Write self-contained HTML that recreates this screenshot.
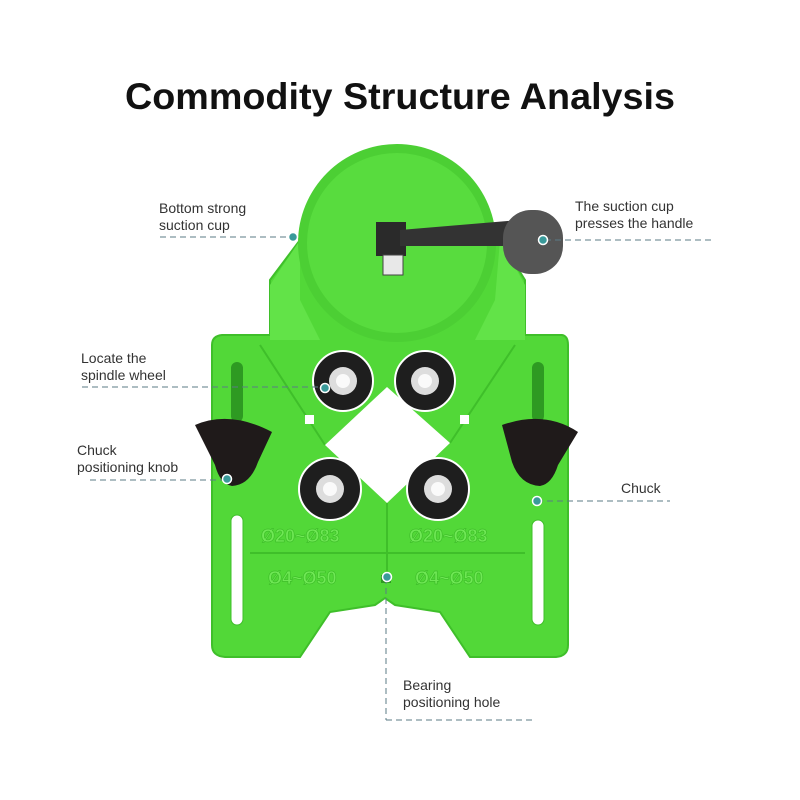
<!DOCTYPE html>
<html><head><meta charset="utf-8"><style>
body{margin:0;background:#fff;}
svg{display:block}
text{font-family:"Liberation Sans",sans-serif}
</style></head><body>
<svg width="800" height="800" viewBox="0 0 800 800">
<rect width="800" height="800" fill="#fff"/>
<text x="400" y="109" text-anchor="middle" font-size="37" font-weight="bold" fill="#111" textLength="550" lengthAdjust="spacingAndGlyphs">Commodity Structure Analysis</text>

<!-- body -->
<path d="M270 280 L300 240 L500 240 L525 280 L525 335 L562 335 Q568 336 568 345 L568 645 Q568 656 556 657 L470 657 L440 612 L395 605 L385 598 L375 605 L330 612 L300 657 L225 657 Q212 656 212 645 L212 345 Q212 336 222 335 L270 335 Z" fill="#52d838" stroke="#3fbf2a" stroke-width="2"/>
<path d="M300 240 L270 285 L270 340 L320 340 L300 300 Z" fill="#62e348"/>
<path d="M500 240 L525 285 L525 340 L475 340 L495 300 Z" fill="#62e348"/>
<line x1="250" y1="553" x2="525" y2="553" stroke="#3fbf2a" stroke-width="2"/>
<line x1="387" y1="503" x2="387" y2="580" stroke="#3fbf2a" stroke-width="2"/>
<line x1="260" y1="345" x2="325" y2="445" stroke="#3fbf2a" stroke-width="2"/>
<line x1="515" y1="345" x2="450" y2="443" stroke="#3fbf2a" stroke-width="2"/>
<!-- slots -->
<rect x="231" y="362" width="12" height="60" rx="6" fill="#2e9a22"/>
<rect x="231" y="515" width="12" height="110" rx="6" fill="#fff" stroke="#3fbf2a"/>
<rect x="532" y="362" width="12" height="60" rx="6" fill="#2e9a22"/>
<rect x="532" y="520" width="12" height="105" rx="6" fill="#fff" stroke="#3fbf2a"/>
<!-- diamond -->
<path d="M387 387 L450 443 L387 503 L325 445 Z" fill="#fff"/>
<rect x="305" y="415" width="9" height="9" fill="#fff"/>
<rect x="460" y="415" width="9" height="9" fill="#fff"/>
<rect x="381" y="575" width="10" height="8" fill="#2e9a22"/>
<!-- labels on tool -->
<g font-size="18" fill="#6fe855" stroke="#3fbf2a" stroke-width="0.7" font-weight="bold">
<text x="261" y="542">Ø20~Ø83</text><text x="409" y="542">Ø20~Ø83</text>
<text x="268" y="584">Ø4~Ø50</text>
<text x="415" y="584">Ø4~Ø50</text>
</g>
<!-- suction cup -->
<circle cx="397" cy="243" r="99" fill="#4ccf34"/>
<circle cx="397" cy="243" r="90" fill="#58dc3e"/>
<!-- handle -->
<rect x="376" y="222" width="30" height="34" fill="#2a2a2a"/>
<rect x="383" y="255" width="20" height="20" fill="#e8e8e8" stroke="#444"/>
<path d="M400 230 L520 220 L520 246 L400 246 Z" fill="#333"/>
<rect x="503" y="210" width="60" height="64" rx="28" fill="#555"/>
<!-- wheels -->
<g>
<circle cx="343" cy="381" r="30" fill="#1e1e1e" stroke="#fff" stroke-width="2"/><circle cx="343" cy="381" r="14" fill="#ddd"/><circle cx="343" cy="381" r="7" fill="#fafafa"/>
<circle cx="425" cy="381" r="30" fill="#1e1e1e" stroke="#fff" stroke-width="2"/><circle cx="425" cy="381" r="14" fill="#ddd"/><circle cx="425" cy="381" r="7" fill="#fafafa"/>
<circle cx="330" cy="489" r="31" fill="#1e1e1e" stroke="#fff" stroke-width="2"/><circle cx="330" cy="489" r="14" fill="#ddd"/><circle cx="330" cy="489" r="7" fill="#fafafa"/>
<circle cx="438" cy="489" r="31" fill="#1e1e1e" stroke="#fff" stroke-width="2"/><circle cx="438" cy="489" r="14" fill="#ddd"/><circle cx="438" cy="489" r="7" fill="#fafafa"/>
</g>
<!-- knobs -->
<path d="M195 425 Q230 410 272 432 L258 462 Q250 485 232 486 Q220 484 215 465 Z" fill="#1f1a1a"/>
<path d="M578 432 Q545 410 502 425 L512 462 Q520 485 540 486 Q552 484 558 465 Z" fill="#1f1a1a"/>

<!-- callouts -->
<g stroke="#5b7b86" stroke-width="1" stroke-dasharray="6,4" fill="none">
<line x1="160" y1="237" x2="293" y2="237"/>
<line x1="545" y1="240" x2="712" y2="240"/>
<line x1="82" y1="387" x2="325" y2="387"/>
<line x1="90" y1="480" x2="226" y2="480"/>
<line x1="537" y1="501" x2="670" y2="501"/>
<line x1="386" y1="578" x2="386" y2="720"/>
<line x1="386" y1="720" x2="535" y2="720"/>
</g>
<g fill="#3a9a9a" stroke="#fff" stroke-width="1.5">
<circle cx="293" cy="237" r="4.5"/><circle cx="543" cy="240" r="4.5"/>
<circle cx="325" cy="388" r="4.5"/><circle cx="227" cy="479" r="4.5"/>
<circle cx="537" cy="501" r="4.5"/><circle cx="387" cy="577" r="4.5"/>
</g>
<g font-size="14" fill="#333">
<text x="159" y="213">Bottom strong</text><text x="159" y="230">suction cup</text>
<text x="575" y="211">The suction cup</text><text x="575" y="228">presses the handle</text>
<text x="81" y="363">Locate the</text><text x="81" y="380">spindle wheel</text>
<text x="77" y="455">Chuck</text><text x="77" y="472">positioning knob</text>
<text x="621" y="493">Chuck</text>
<text x="403" y="690">Bearing</text><text x="403" y="707">positioning hole</text>
</g>
</svg>
</body></html>
